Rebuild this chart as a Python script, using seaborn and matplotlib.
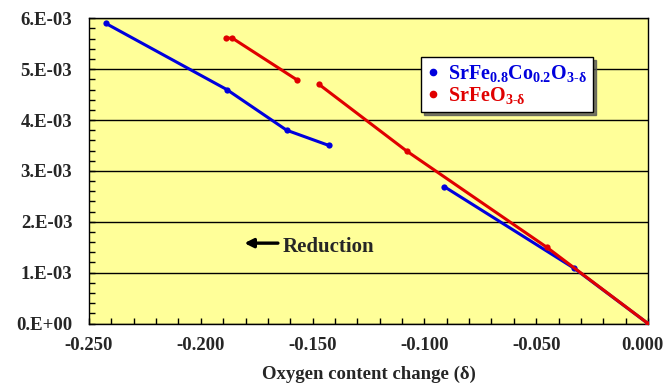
import pandas as pd
import numpy as np
import matplotlib
matplotlib.use("Agg")
import matplotlib.pyplot as plt
import matplotlib.transforms as mtransforms
import seaborn as sns
from matplotlib.ticker import MultipleLocator, FuncFormatter
from matplotlib.lines import Line2D

# --- data ---------------------------------------------------------------------
blue_label = r"SrFe$_{0.8}$Co$_{0.2}$O$_{3\text{-}\delta}$"
red_label = r"SrFeO$_{3\text{-}\delta}$"

blue_seg1_x = [-0.2425, -0.1884, -0.1616, -0.1427]
blue_seg1_y = [5.90e-3, 4.60e-3, 3.80e-3, 3.50e-3]
blue_seg2_x = [-0.0911, -0.0330, 0.0]
blue_seg2_y = [2.69e-3, 1.085e-3, 0.0]

red_seg1_x = [-0.1889, -0.1859, -0.1570]
red_seg1_y = [5.61e-3, 5.61e-3, 4.79e-3]
red_seg2_x = [-0.1471, -0.1079, -0.0453, 0.0]
red_seg2_y = [4.70e-3, 3.39e-3, 1.50e-3, 0.0]

x_ticks = [-0.250, -0.200, -0.150, -0.100, -0.050, 0.000]
y_ticks = [0, 1e-3, 2e-3, 3e-3, 4e-3, 5e-3, 6e-3]

frames = []
for series, seg, xs, ys in [
    ("blue", "b1", blue_seg1_x, blue_seg1_y),
    ("blue", "b2", blue_seg2_x, blue_seg2_y),
    ("red", "r1", red_seg1_x, red_seg1_y),
    ("red", "r2", red_seg2_x, red_seg2_y),
]:
    frames.append(pd.DataFrame({"x": xs, "y": ys, "series": series, "seg": seg}))
df = pd.concat(frames, ignore_index=True)

colors = {"blue": "#0000DD", "red": "#E00000"}

# --- style --------------------------------------------------------------------
sns.set_style("ticks")
plt.rcParams["font.family"] = ["Liberation Serif", "DejaVu Serif"]
plt.rcParams["font.weight"] = "bold"
plt.rcParams["mathtext.fontset"] = "custom"
plt.rcParams["mathtext.rm"] = "Liberation Serif:bold"
plt.rcParams["mathtext.it"] = "Liberation Serif:bold"
plt.rcParams["mathtext.bf"] = "Liberation Serif:bold"

fig = plt.figure(figsize=(6.67, 3.85), dpi=100)
ax = fig.add_axes([0.1334, 0.1597, 0.8381, 0.7928])
ax.set_facecolor("#FFFF99")

sns.lineplot(data=df, x="x", y="y", hue="series", units="seg", estimator=None,
             palette=colors, marker="o", markersize=4.5, markeredgewidth=0,
             linewidth=2.2, legend=False, ax=ax, zorder=3)

ax.set_xlim(-0.250, 0.0)
ax.set_ylim(0, 6e-3)
ax.set_xticks(x_ticks)
ax.set_yticks(y_ticks)
ax.xaxis.set_minor_locator(MultipleLocator(0.01))
ax.yaxis.set_minor_locator(MultipleLocator(2e-4))
ax.xaxis.set_major_formatter(FuncFormatter(lambda v, p: f"{v:.3f}" if abs(v) > 1e-9 else "0.000"))
ax.yaxis.set_major_formatter(FuncFormatter(
    lambda v, p: "0.E+00" if abs(v) < 1e-12 else f"{round(v * 1e3):d}.E-03"))
ax.tick_params(which="both", direction="in", length=4, width=1, color="black")
ax.tick_params(axis="x", which="major", labelsize=13.5, pad=10)
ax.tick_params(axis="y", which="major", labelsize=13.5, pad=12)
for lab in ax.get_xticklabels() + ax.get_yticklabels():
    lab.set_fontweight("bold")

# nudge the last x label so it stays inside the figure
last = ax.get_xticklabels()[-1]
last.set_transform(last.get_transform() +
                   mtransforms.ScaledTranslation(-6 / 100, 0, fig.dpi_scale_trans))

ax.grid(axis="y", which="major", color="black", linewidth=1)
ax.set_axisbelow(True)
for s in ax.spines.values():
    s.set_color("black")
    s.set_linewidth(1)

ax.set_xlabel("Oxygen content change (δ)", fontsize=13.5, fontweight="bold", labelpad=8)
ax.set_ylabel("")

# arrow + label
ax.annotate("", xy=(-0.1805, 1.58e-3), xytext=(-0.1655, 1.58e-3),
            arrowprops=dict(arrowstyle="-|>", color="black", lw=2.4,
                            mutation_scale=13, shrinkA=0, shrinkB=0))
ax.text(-0.1633, 1.50e-3, "Reduction", fontsize=15, fontweight="bold",
        va="center", ha="left")

handles = [Line2D([], [], color=colors["blue"], marker="o", markersize=4.5, linestyle="none"),
           Line2D([], [], color=colors["red"], marker="o", markersize=4.5, linestyle="none")]
leg = ax.legend(handles, [blue_label, red_label], loc="upper left",
                bbox_to_anchor=(0.594, 0.873), frameon=True, fancybox=False,
                fontsize=14.5, handlelength=0.6, handletextpad=0.45,
                labelspacing=0.05, borderpad=0.3, borderaxespad=0,
                shadow={"ox": 2, "oy": -2, "color": "#555555", "alpha": 0.8})
leg.get_frame().set_edgecolor("black")
leg.get_frame().set_linewidth(1)
leg.get_frame().set_facecolor("white")
leg.get_frame().set_alpha(1)
for t, c in zip(leg.get_texts(), [colors["blue"], colors["red"]]):
    t.set_color(c)

fig.savefig("out.png", dpi=100, facecolor="white")
